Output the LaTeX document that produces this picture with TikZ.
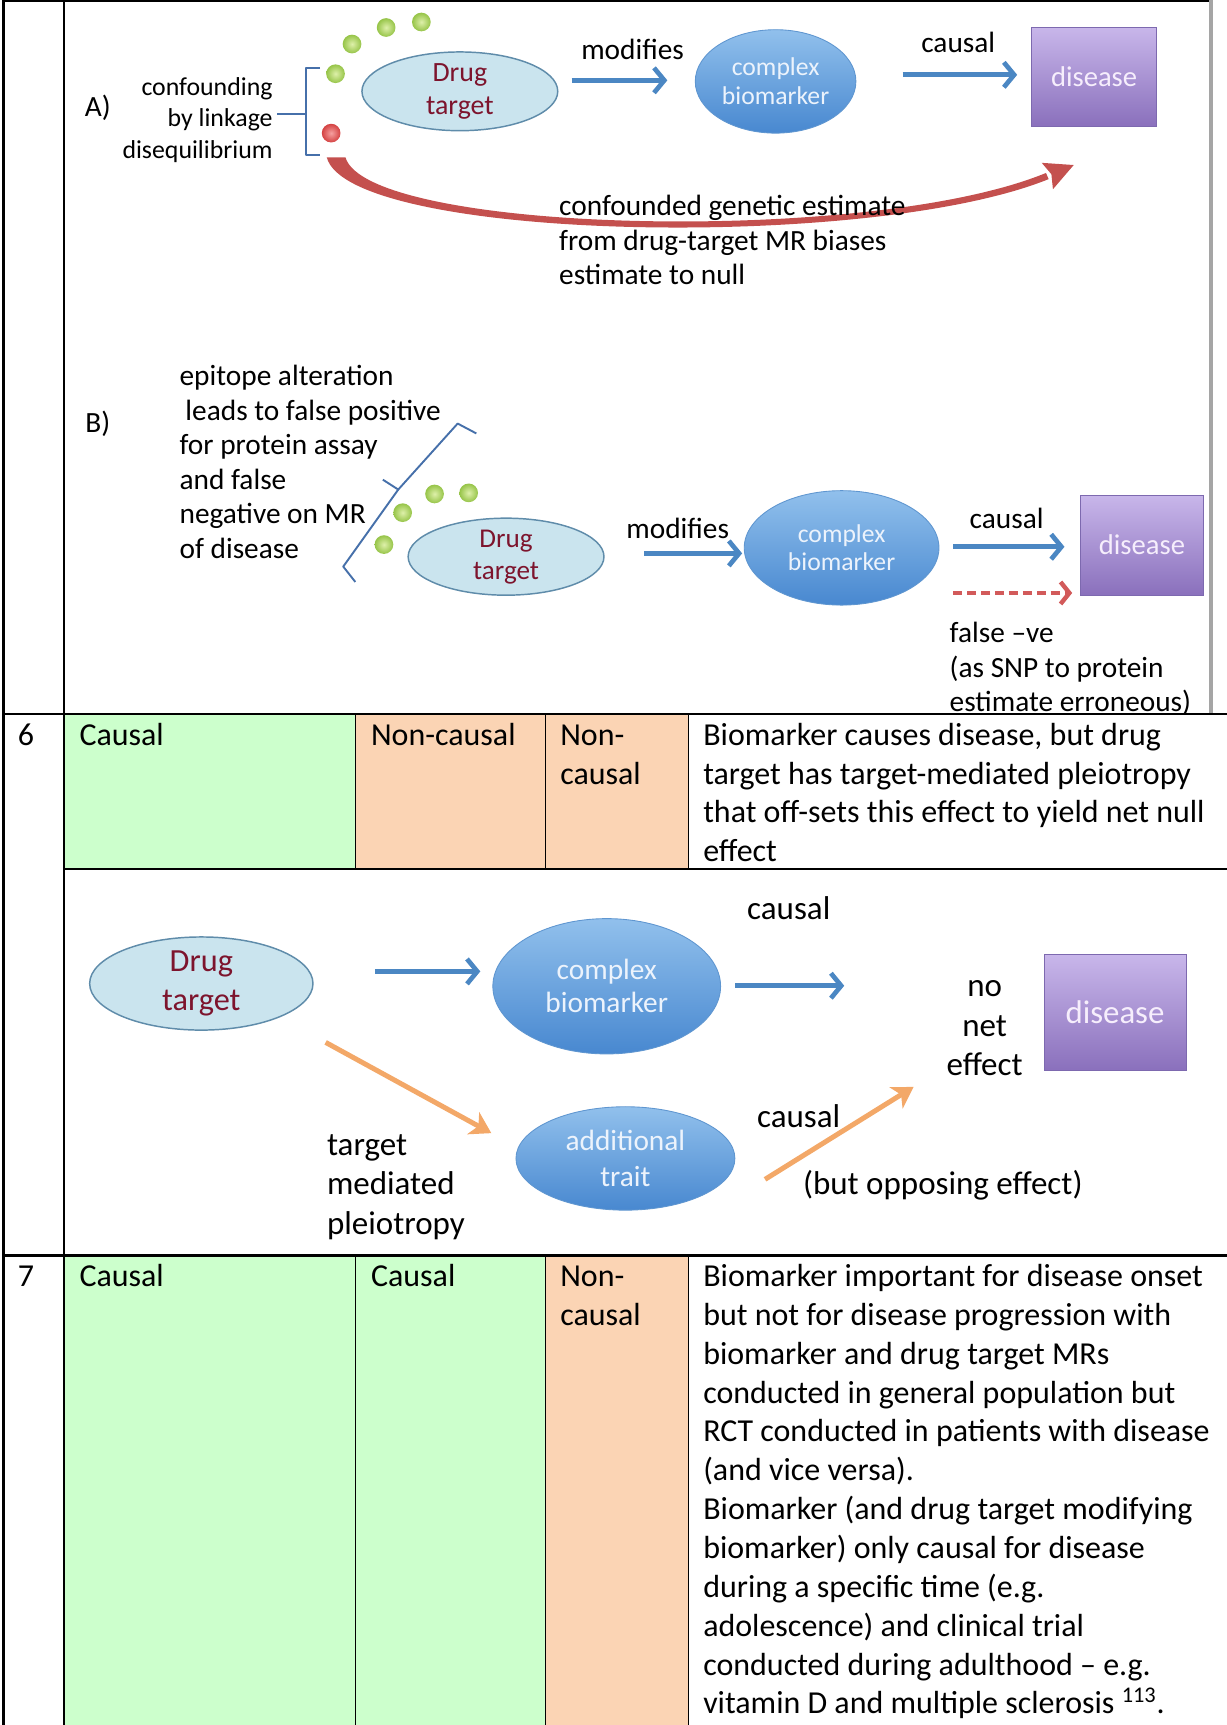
\documentclass[tikz,border=0pt]{standalone}
\usepackage{xcolor}
\usepackage{fontspec}
\setmainfont{Carlito}
\usepackage{tikz}
\usetikzlibrary{shapes.geometric,arrows.meta,calc}

\definecolor{blobtop}{RGB}{145,192,236}
\definecolor{blobbot}{RGB}{72,136,208}
\definecolor{distop}{RGB}{200,182,234}
\definecolor{disbot}{RGB}{138,112,188}
\definecolor{dotin}{RGB}{222,240,170}
\definecolor{dotout}{RGB}{150,196,72}
\definecolor{redin}{RGB}{246,160,160}
\definecolor{redout}{RGB}{212,66,66}

\tikzset{
  cell/.style={anchor=north west,inner sep=0pt,align=left,font=\fontsize{21.8}{26.5}\selectfont},
  lbl/.style={inner sep=0pt,execute at begin node=\strut,execute at end node=\strut},
  dfont/.style={font=\fontsize{20}{23.6}\selectfont},
  dsixfont/.style={font=\fontsize{22.5}{27}\selectfont},
  snp/.style={inner color=dotin,outer color=dotout},
  drugtgt/.style={ellipse,draw={rgb, 255:red, 95; green, 140; blue, 170 },line width=1pt,fill={rgb, 255:red, 202; green, 228; blue, 238 },text={rgb, 255:red, 125; green, 20; blue, 45 },align=center,inner sep=0pt},
  blob/.style={ellipse,draw={rgb, 255:red, 95; green, 150; blue, 208 },line width=0.6pt,top color=blobtop,bottom color=blobbot,text={rgb, 255:red, 236; green, 243; blue, 252 },align=center,inner sep=0pt},
  disbox/.style={rectangle,draw={rgb, 255:red, 125; green, 105; blue, 175 },line width=0.6pt,top color=distop,bottom color=disbot,text={rgb, 255:red, 246; green, 238; blue, 252 },inner sep=0pt},
  bluearr/.style={draw={rgb, 255:red, 75; green, 135; blue, 195 },line width=3.2pt,-{Straight Barb[length=7pt,width=17pt]}},
  orarr/.style={draw={rgb, 255:red, 243; green, 168; blue, 104 },line width=3.4pt,-{Stealth[length=14pt,width=17pt,inset=4pt]}},
  reddash/.style={draw={rgb, 255:red, 210; green, 90; blue, 90 },line width=3pt,dash pattern=on 6pt off 3.5pt,-{Straight Barb[length=6pt,width=15pt]}},
  bracket/.style={draw={rgb, 255:red, 70; green, 112; blue, 170 },line width=1.3pt,line join=round}
}

\begin{document}
\begin{tikzpicture}[x=0.75pt,y=0.75pt,yscale=-1,xscale=1]
\useasboundingbox (0,0) rectangle (1115,1568);

%Shape: Rectangle (cell fills)
\fill [fill={rgb, 255:red, 204; green, 255; blue, 204 }] (58,649) rectangle (323,790);
\fill [fill={rgb, 255:red, 251; green, 212; blue, 180 }] (323,649) rectangle (626,790);
\fill [fill={rgb, 255:red, 204; green, 255; blue, 204 }] (58,1141) rectangle (496,1568);
\fill [fill={rgb, 255:red, 251; green, 212; blue, 180 }] (496,1141) rectangle (626,1568);

%Shape: Lines (table rules)
\draw [line width=2pt] (3,0) -- (3,1568);
\draw [line width=1.6pt] (58,0) -- (58,1568);
\draw [line width=1.6pt] (3,1) -- (1101,1);
\draw [color={rgb, 255:red, 165; green, 165; blue, 165 }, line width=3pt] (1101,0) -- (1101,649);
\draw [line width=1.8pt] (3,649) -- (1115,649);
\draw [line width=1.5pt] (58,790) -- (1115,790);
\draw [line width=1.8pt] (3,1141) -- (1115,1141);
\draw [line width=1.1pt] (323,649) -- (323,790) (496,649) -- (496,790) (626,649) -- (626,790);
\draw [line width=1.1pt] (323,1141) -- (323,1568) (496,1141) -- (496,1568) (626,1141) -- (626,1568);

%%% Diagram A
%Shape: Bracket
\draw [bracket] (291,62) -- (278,62) -- (278,141) -- (291,141);
\draw [bracket] (278,104) -- (252,104);
%Shape: Circles (SNPs)
\shade [snp] (305,67) circle (8.5);
\shade [snp] (320,40) circle (8.5);
\shade [snp] (351,25) circle (8.5);
\shade [snp] (383,20) circle (8.5);
\shade [inner color=redin, outer color=redout] (301,121) circle (8.5);
%Shape: Curved arrow
\fill [fill={rgb, 255:red, 196; green, 80; blue, 78 }] (297,143) .. controls (317,219) and (790,229) .. (953.2,162.8) -- (950.8,157.2) .. controls (790,223.5) and (334,212) .. (314,143) -- cycle;
\fill [fill={rgb, 255:red, 196; green, 80; blue, 78 }] (976,150) -- (946.9,148) -- (955.7,158.4) -- (957.1,172) -- cycle;

\node [drugtgt, minimum width=133.5pt, minimum height=48pt, font=\fontsize{19}{22.5}\selectfont] (dtA) at (418,83) {Drug\\target};
\node [blob, minimum width=109.5pt, minimum height=70.5pt, font=\fontsize{17.5}{20}\selectfont] (cbA) at (705,74) {complex\\biomarker};
\node [disbox, minimum width=84.75pt, minimum height=67.5pt, font=\fontsize{19.5}{23}\selectfont] (disA) at (994.5,70) {disease};

\draw [bluearr] ($(dtA.east)+(12,-10)$) -- ($(cbA.west)+(-25,-1)$);
\draw [bluearr] ($(cbA.east)+(42,-6)$) -- ($(disA.west)+(-13,-2)$);

% Text Node
\node [lbl, dfont] (aLbl) at (89,100) {A)};
% Text Node
\node [lbl, align=right, anchor=east, font=\fontsize{17.6}{21.4}\selectfont] (ldTxt) at (248,111.5) {confounding\\by linkage\\disequilibrium};
% Text Node
\node [lbl, dfont] (modA) at (575,48) {modifies};
% Text Node
\node [lbl, dfont] (csA) at (871,41) {causal};
% Text Node
\node [lbl, dfont, align=left, anchor=west] (confTxt) at (508,223) {confounded genetic estimate\\from drug-target MR biases\\estimate to null};

%%% Diagram B
%Shape: Bracket
\draw [bracket] (433,394) -- (416,385) -- (362,445) -- (348,436);
\draw [bracket] (362,445) -- (312,515) -- (323,529);
%Shape: Circles (SNPs)
\shade [snp] (366,466) circle (8.5);
\shade [snp] (395,449) circle (8.5);
\shade [snp] (426,448) circle (8.5);
\shade [snp] (349,495) circle (8.5);

\node [drugtgt, minimum width=133.5pt, minimum height=52.5pt, font=\fontsize{18.5}{21.75}\selectfont] (dtB) at (460,506) {Drug\\target};
\node [blob, minimum width=132.75pt, minimum height=78pt, font=\fontsize{17.5}{19.5}\selectfont] (cbB) at (765,498) {complex\\biomarker};
\node [disbox, minimum width=84pt, minimum height=68.25pt, font=\fontsize{19.5}{23}\selectfont] (disB) at (1038,495.5) {disease};

\draw [bluearr] ($(dtB.east)+(36,-3)$) -- ($(cbB.west)+(-1.5,5)$);
\draw [bluearr] ($(cbB.east)+(12.5,-1)$) -- ($(disB.west)+(-14,1.5)$);
\draw [reddash] ($(cbB.east)+(12.5,41)$) -- ($(disB.west)+(-7,43.5)$);

% Text Node
\node [lbl, dfont] (bLbl) at (89,387) {B)};
% Text Node
\node [lbl, dfont, align=left, anchor=west] (epiTxt) at (163,424.5) {epitope alteration\\\hspace*{4pt}leads to false positive\\for protein assay\\and false\\negative on MR\\of disease};
% Text Node
\node [lbl, dfont] (modB) at (616,483) {modifies};
% Text Node
\node [lbl, dfont] (csB) at (915,474) {causal};
% Text Node
\node [lbl, dfont, align=left, anchor=west] (fnTxt) at (863,611) {false --ve\\(as SNP to protein\\estimate erroneous)};

%%% Row 6
% Text Node
\node [cell] (nSix) at (16,652.3) {\strut 6};
\node [cell] (sixA) at (72,652.3) {\strut Causal};
\node [cell] (sixB) at (337,652.3) {\strut Non-causal};
\node [cell] (sixC) at (509,652.3) {\strut Non-\\causal};
\node [cell] (sixD) at (639,652.3) {\strut Biomarker causes disease, but drug\\target has target-mediated pleiotropy\\that off-sets this effect to yield net null\\effect};

%%% Diagram row 6
\node [drugtgt, minimum width=152.25pt, minimum height=56.25pt, font=\fontsize{22}{27}\selectfont] (dtSix) at (183,894) {Drug\\target};
\node [blob, minimum width=155.25pt, minimum height=92.25pt, font=\fontsize{20}{22.5}\selectfont] (cbSix) at (551.5,896.5) {complex\\biomarker};
\node [blob, minimum width=149.25pt, minimum height=70.5pt, font=\fontsize{20}{24.75}\selectfont] (atSix) at (568.5,1053) {additional\\trait};
\node [disbox, minimum width=96.75pt, minimum height=78.75pt, font=\fontsize{22.4}{27}\selectfont] (disSix) at (1013.5,920.5) {disease};

% Text Node
\node [lbl, dsixfont] (csSixA) at (717,829) {causal};
% Text Node
\node [lbl, dsixfont, align=center] (noNet) at (895,940) {no\\net\\effect};
% Text Node
\node [lbl, dsixfont, align=left, anchor=west] (tmpTxt) at (297,1082) {target\\mediated\\pleiotropy};
% Text Node
\node [lbl, dsixfont] (csSixB) at (726,1018) {causal};
% Text Node
\node [lbl, dsixfont] (oppTxt) at (857,1079) {(but opposing effect)};

\draw [bluearr] ($(dtSix.east)+(55.5,-11)$) -- ($(cbSix.west)+(-11,-13.5)$);
\draw [bluearr] ($(cbSix.east)+(13,-0.5)$) -- ++(99,0);
\draw [orarr] ($(dtSix.south)+(113,10.5)$) -- ($(atSix.west)+(-22,-23)$);
\draw [orarr] ($(atSix.east)+(27,19)$) -- ++(135,-84);

%%% Row 7
% Text Node
\node [cell] (nSeven) at (16,1144.3) {\strut 7};
\node [cell] (sevA) at (72,1144.3) {\strut Causal};
\node [cell] (sevB) at (337,1144.3) {\strut Causal};
\node [cell] (sevC) at (509,1144.3) {\strut Non-\\causal};
\node [cell] (sevD) at (639,1144.3) {\strut Biomarker important for disease onset\\but not for disease progression with\\biomarker and drug target MRs\\conducted in general population but\\RCT conducted in patients with disease\\(and vice versa).\\Biomarker (and drug target modifying\\biomarker) only causal for disease\\during a specific time (e.g.\\adolescence) and clinical trial\\conducted during adulthood -- e.g.\\vitamin D and multiple sclerosis \textsuperscript{113}.};

\end{tikzpicture}
\end{document}
